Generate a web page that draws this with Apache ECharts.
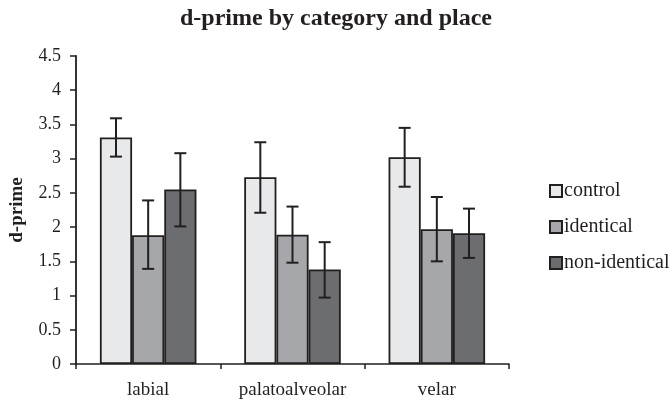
<!DOCTYPE html>
<html>
<head>
<meta charset="utf-8">
<script src="https://cdn.jsdelivr.net/npm/echarts@6/dist/echarts.min.js"></script>
<style>html,body{margin:0;padding:0;background:#fff}#c{width:672px;height:402px}</style>
</head>
<body>
<div id="c"></div>
<script>
const categories = ['labial', 'palatoalveolar', 'velar'];
const seriesNames = ['control', 'identical', 'non-identical'];
const controlVals = [3.31, 2.73, 3.02];
const identicalVals = [1.88, 1.89, 1.97];
const nonIdenticalVals = [2.55, 1.38, 1.91];
const controlErrLow = [3.03, 2.21, 2.59];
const controlErrHigh = [3.59, 3.24, 3.45];
const identicalErrLow = [1.39, 1.48, 1.50];
const identicalErrHigh = [2.39, 2.30, 2.44];
const nonIdenticalErrLow = [2.01, 0.97, 1.55];
const nonIdenticalErrHigh = [3.08, 1.78, 2.27];
const yTicks = ['0', '0.5', '1', '1.5', '2', '2.5', '3', '3.5', '4', '4.5'];

const colors = ['#e8e9eb', '#a6a7aa', '#6c6d70'];
const vals = [controlVals, identicalVals, nonIdenticalVals];
const lows = [controlErrLow, identicalErrLow, nonIdenticalErrLow];
const highs = [controlErrHigh, identicalErrHigh, nonIdenticalErrHigh];
const BAR_FRAC = 0.223;
const serif = 'Liberation Serif, Times New Roman, serif';
const ink = '#231f20';

const series = [];
vals.forEach((v, s) => {
  series.push({
    name: seriesNames[s], type: 'bar', data: v,
    barWidth: (BAR_FRAC * 100) + '%', barGap: '0%',
    itemStyle: { color: colors[s], borderColor: ink, borderWidth: 1.8 },
    emphasis: { disabled: true }
  });
});
vals.forEach((v, s) => {
  series.push({
    type: 'custom', name: 'err' + s, z: 5,
    data: categories.map((c, i) => [i, lows[s][i], highs[s][i]]),
    renderItem: function (params, api) {
      const i = api.value(0);
      const band = api.size([1, 0])[0];
      const off = band * BAR_FRAC * (s - 1);
      const lo = api.coord([i, api.value(1)]);
      const hi = api.coord([i, api.value(2)]);
      const x = lo[0] + off;
      const cap = 6;
      const st = { stroke: ink, lineWidth: 2 };
      return { type: 'group', children: [
        { type: 'line', shape: { x1: x, y1: hi[1], x2: x, y2: lo[1] }, style: st },
        { type: 'line', shape: { x1: x - cap, y1: hi[1], x2: x + cap, y2: hi[1] }, style: st },
        { type: 'line', shape: { x1: x - cap, y1: lo[1], x2: x + cap, y2: lo[1] }, style: st }
      ]};
    }
  });
});

const chart = echarts.init(document.getElementById('c'));
chart.setOption({
  animation: false,
  title: {
    text: 'd-prime by category and place', left: 'center', top: 2,
    textStyle: { fontFamily: serif, fontWeight: 'bold', fontSize: 24, color: ink }
  },
  legend: {
    data: seriesNames, orient: 'vertical', left: 544, top: 176,
    itemWidth: 12, itemHeight: 12, itemGap: 16, icon: 'rect',
    textStyle: { fontFamily: serif, fontSize: 20, color: ink, padding: [0, 0, 0, -3] }
  },
  grid: { left: 72, right: 163, top: 56, bottom: 38 },
  xAxis: {
    type: 'category', data: categories,
    axisLine: { lineStyle: { color: ink, width: 1.5 } },
    axisTick: { show: true, alignWithLabel: false, length: 5, lineStyle: { color: ink, width: 1.5 } },
    axisLabel: { fontFamily: serif, fontSize: 19, color: ink, margin: 17 }
  },
  yAxis: {
    type: 'value', min: 0, max: 4.5, interval: 0.5,
    name: 'd-prime', nameLocation: 'middle', nameGap: 49, nameRotate: 90,
    nameTextStyle: { fontFamily: serif, fontWeight: 'bold', fontSize: 19, color: ink },
    axisLine: { show: true, lineStyle: { color: ink, width: 1.8 } },
    axisTick: { show: true, length: 6, lineStyle: { color: ink, width: 1.5 } },
    splitLine: { show: false },
    axisLabel: { fontFamily: serif, fontSize: 18, color: ink, margin: 15,
      formatter: function (v) { const k = Math.round(v * 2); return yTicks[k] !== undefined ? yTicks[k] : v; } }
  },
  series: series
});
</script>
</body>
</html>
